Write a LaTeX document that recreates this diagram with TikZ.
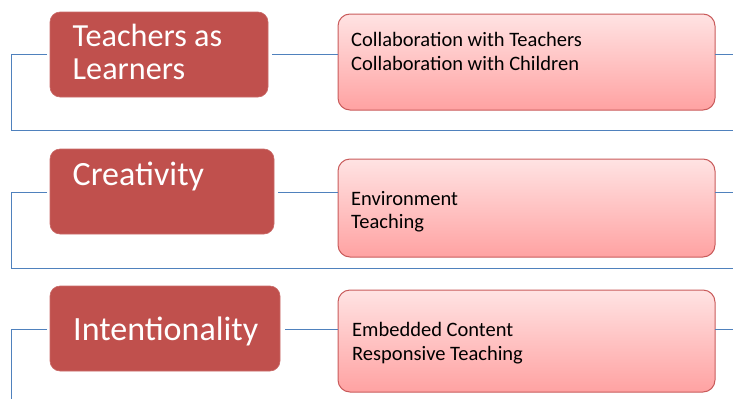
\documentclass[tikz,border=0pt]{standalone}
\usepackage{fontspec}
\setmainfont{Carlito}
\definecolor{redfill}{HTML}{C0504D}
\definecolor{pinktop}{HTML}{FFE3E3}
\definecolor{pinkbot}{HTML}{FFA2A2}
\definecolor{pinkline}{HTML}{C95B5B}
\definecolor{blueline}{HTML}{4F81BD}
\tikzset{
  redbox/.style={anchor=north west, fill=redfill, draw=redfill!85!white, line width=0.6pt, rounded corners=10pt, inner sep=0pt, outer sep=0pt},
  pinkbox/.style={anchor=north west, top color=pinktop, bottom color=pinkbot, draw=pinkline, line width=1pt, rounded corners=12pt, inner sep=0pt, outer sep=0pt},
  redtxt/.style={anchor=base west, text=white, inner sep=0pt, font=\fontsize{32.2}{38}\selectfont},
  pinktxt/.style={anchor=base west, text=black, inner sep=0pt, font=\fontsize{20.5}{24}\selectfont},
  conn/.style={draw=blueline, line width=1pt}
}
\begin{document}
\begin{tikzpicture}[x=1pt,y=-1pt]
\useasboundingbox (0,0) rectangle (733,399);
% row 1
\node[redbox, minimum width=218pt, minimum height=85pt] (r1) at (50,12) {};
\node[pinkbox, minimum width=377pt, minimum height=96pt] (p1) at (338,14) {};
\node[redtxt] (r1a) at (72.5,46.7) {Teachers as};
\node[redtxt] (r1b) at (72.5,79.7) {Learners};
\node[pinktxt] (p1a) at (351,46.7) {Collaboration with Teachers};
\node[pinktxt] (p1b) at (351,70.7) {Collaboration with Children};
\coordinate (L1) at (11,54);
\coordinate (B1) at (11,130);
\coordinate (BE1) at (733,130);
\coordinate (E1) at (733,54);
\draw[conn] ([xshift=-3pt]r1.west |- L1) -- (L1) -- (B1) -- (BE1);
\draw[conn] ([xshift=4pt]r1.east |- L1) -- (p1.west |- L1);
\draw[conn] (p1.east |- E1) -- (E1);
% row 2
\node[redbox, minimum width=224pt, minimum height=85pt] (r2) at (50,149) {};
\node[pinkbox, minimum width=377pt, minimum height=98pt] (p2) at (338,159) {};
\node[redtxt, font=\fontsize{34}{40}\selectfont] (r2a) at (72.5,185) {Creativity};
\node[pinktxt] (p2a) at (351,205) {Environment};
\node[pinktxt] (p2b) at (351,228.3) {Teaching};
\coordinate (L2) at (11,192);
\coordinate (B2) at (11,268);
\coordinate (BE2) at (733,268);
\coordinate (E2) at (733,192);
\draw[conn] ([xshift=-3pt]r2.west |- L2) -- (L2) -- (B2) -- (BE2);
\draw[conn] ([xshift=4pt]r2.east |- L2) -- (p2.west |- L2);
\draw[conn] (p2.east |- E2) -- (E2);
% row 3
\node[redbox, minimum width=230pt, minimum height=85pt] (r3) at (50,286) {};
\node[pinkbox, minimum width=377pt, minimum height=102pt] (p3) at (338,290) {};
\node[redtxt, font=\fontsize{34}{40}\selectfont] (r3a) at (73,340.7) {Intentionality};
\node[pinktxt] (p3a) at (352,336.7) {Embedded Content};
\node[pinktxt] (p3b) at (352,360.7) {Responsive Teaching};
\coordinate (L3) at (11,329);
\coordinate (B3) at (11,399);
\coordinate (E3) at (733,329);
\draw[conn] ([xshift=-3pt]r3.west |- L3) -- (L3) -- (B3);
\draw[conn] ([xshift=5pt]r3.east |- L3) -- (p3.west |- L3);
\draw[conn] (p3.east |- E3) -- (E3);
\end{tikzpicture}
\end{document}
